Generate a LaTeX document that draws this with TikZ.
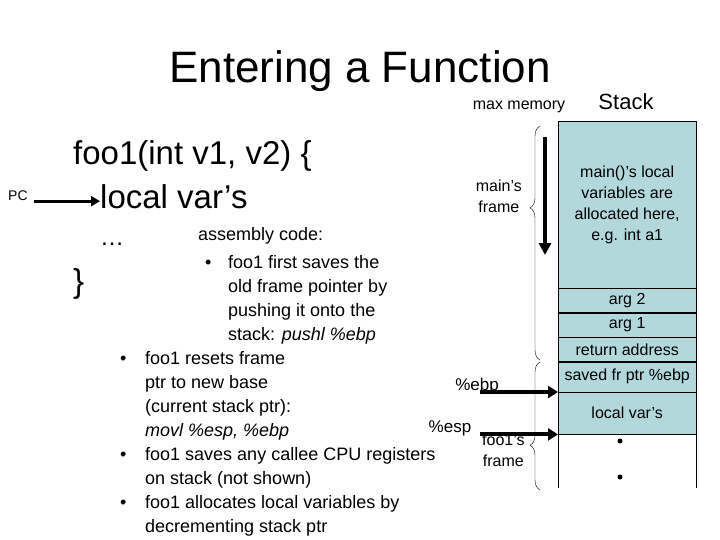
\documentclass[tikz,border=0pt]{standalone}
\usepackage{fontspec}
\setmainfont{Liberation Sans}
\usetikzlibrary{decorations.pathreplacing,arrows.meta}
\definecolor{stackfill}{RGB}{178,216,220}
\tikzset{
  txt/.style={anchor=north west,inner sep=0pt,align=left,font=\fontsize{18}{24}\selectfont},
  dot/.style={anchor=base west,inner sep=0pt,font=\fontsize{18}{24}\selectfont},
  cell/.style={draw,fill=stackfill,minimum width=138pt,inner sep=0pt},
  ptr/.style={line width=4pt,-{Triangle[length=10pt,width=12pt]}},
  stk/.style={font=\fontsize{16}{21}\selectfont,align=center}
}
\begin{document}
\begin{tikzpicture}[x=1pt,y=-1pt]
  \useasboundingbox (0,0) rectangle (720,540);
  \node [anchor=base,font=\fontsize{44}{48}\selectfont] (title) at (360,83) {Entering a Function};
  \node [anchor=base,font=\fontsize{16}{20}\selectfont] (maxmem) at (519,110) {max memory};
  \node [anchor=base,font=\fontsize{22}{24}\selectfont] (stack) at (626,110) {Stack};

  % source code
  \node [anchor=base west,inner sep=0pt,font=\fontsize{33}{36}\selectfont] (sig) at (73,165) {foo1(int v1, v2) \{};
  \node [anchor=base west,inner sep=0pt,font=\fontsize{33}{36}\selectfont] (local) at (100,208) {local var’s};
  \node [anchor=base west,inner sep=0pt,font=\fontsize{24}{24}\selectfont] (dots) at (100,245) {\dots};
  \node [anchor=base west,inner sep=0pt,font=\fontsize{33}{36}\selectfont] (close) at (73,292) {\}};
  \node [anchor=base west,inner sep=0pt,font=\fontsize{14}{16}\selectfont] (pc) at (8,201) {PC};
  \draw [line width=3pt,-{Triangle[length=9pt,width=10pt]}] (pc.east) ++(6pt,-5pt) coordinate (pcs) -- (local.west |- pcs);

  % assembly notes
  \node [txt] (asm) at (198,227) {assembly code:};
  \node [dot] (b1) at (205,268) {•};
  \node [txt] (t1) at (228,255) {foo1 first saves the\\old frame pointer by\\pushing it onto the\\stack: \textit{pushl \%ebp}};
  \node [dot] (b2) at (120,364) {•};
  \node [txt] (t2) at (145,351) {foo1 resets frame\\ptr to new base\\(current stack ptr):\\\textit{movl \%esp, \%ebp}};
  \node [dot] (b3) at (120,460) {•};
  \node [txt] (t3) at (145,447) {foo1 saves any callee CPU registers\\on stack (not shown)};
  \node [dot] (b4) at (120,508) {•};
  \node [txt] (t4) at (145,495) {foo1 allocates local variables by\\decrementing stack ptr};

  % stack cells
  \node [cell,minimum height=167pt,anchor=north west,stk] (mainvars) at (558,121) {main()’s local\\variables are\\allocated here,\\e.g. int a1};
  \node [cell,minimum height=24pt,anchor=north,stk] (arg2) at (mainvars.south) {arg 2};
  \node [cell,minimum height=24pt,anchor=north,stk] (arg1) at (arg2.south) {arg 1};
  \node [cell,minimum height=24pt,anchor=north,stk] (ret) at (arg1.south) {return address};
  \node [cell,minimum height=30pt,anchor=north,stk] (saved) at (ret.south) {saved fr ptr \%ebp};
  \node [cell,minimum height=42pt,anchor=north,stk] (lvars) at (saved.south) {local var’s};
  \coordinate (bl) at (lvars.south west |- 0,488);
  \coordinate (br) at (lvars.south east |- 0,488);
  \draw (lvars.south west) -- (bl) (lvars.south east) -- (br);
  \fill (620,441) circle (2.5pt) (620,477) circle (2.5pt);

  % growth arrow and frames
  \draw [line width=3.5pt,-{Triangle[length=12pt,width=12pt]}] (545,137) -- (545,255);
  \draw [decorate,decoration={brace,amplitude=10pt,aspect=0.65}] (540,360) -- (540,126);
  \node [anchor=north east,stk,inner sep=0pt] (mainf) at (522,180) {main’s\\frame};
  \draw [decorate,decoration={brace,amplitude=10pt,aspect=0.35}] (540,490) -- (540,362);
  \node [anchor=north west,stk,inner sep=0pt] (foof) at (482,434) {foo1’s\\frame};

  % register pointers
  \node [anchor=base,inner sep=0pt,font=\fontsize{17}{20}\selectfont] (ebp) at (477,390) {\%ebp};
  \node [anchor=base,inner sep=0pt,font=\fontsize{17}{20}\selectfont] (esp) at (450,432) {\%esp};
  \draw [ptr] (480,0 |- saved.south west) -- (saved.south west);
  \draw [ptr] (480,0 |- lvars.south west) -- (lvars.south west);
\end{tikzpicture}
\end{document}
